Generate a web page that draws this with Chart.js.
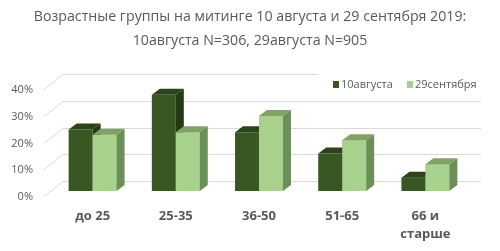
<!DOCTYPE html>
<html lang="ru">
<head>
<meta charset="UTF-8">
<title>Возрастные группы</title>
<script src="https://cdn.jsdelivr.net/npm/chart.js"></script>
<style>
  html, body { margin: 0; padding: 0; background: #fff; }
  #wrap { width: 500px; height: 251px; }
</style>
</head>
<body>
<div id="wrap"><canvas id="c"></canvas></div>
<script>
  const categories = [['до 25'], ['25-35'], ['36-50'], ['51-65'], ['66 и', 'старше']];
  const aug10 = [23, 36, 22, 14, 5];
  const sep29 = [21, 22, 28, 19, 10];
  const seriesNames = ['10августа', '29сентября'];
  const yTicks = [0, 10, 20, 30, 40];

  const frontCol = ['#385723', '#a9d18e'];
  const topCol = ['#2b4419', '#80a267'];
  const sideCol = ['#233a15', '#6c8f57'];
  const DX = 8, DY = 6;       // bar depth
  const WALL_DY = 10;         // back wall shift

  const box3d = {
    id: 'box3d',
    beforeDatasetsDraw(chart) {
      const ctx = chart.ctx, y = chart.scales.y;
      ctx.save();
      ctx.strokeStyle = '#d9d9d9';
      ctx.lineWidth = 1;
      yTicks.forEach(v => {
        const py = Math.round(y.getPixelForValue(v)) + 0.5;
        ctx.beginPath();
        ctx.moveTo(44, py + 5);
        ctx.lineTo(63, py - WALL_DY);
        ctx.lineTo(v === 40 ? 318 : 481, py - WALL_DY);
        ctx.stroke();
      });
      ctx.restore();
    },
    afterDatasetsDraw(chart) {
      const ctx = chart.ctx;
      const faces = (el, i) => {
        const p = el.getProps(['x', 'y', 'base', 'width'], true);
        const l = p.x - p.width / 2, r = p.x + p.width / 2;
        ctx.fillStyle = topCol[i];
        ctx.beginPath();
        ctx.moveTo(l, p.y); ctx.lineTo(r, p.y);
        ctx.lineTo(r + DX, p.y - DY); ctx.lineTo(l + DX, p.y - DY);
        ctx.closePath(); ctx.fill();
        ctx.fillStyle = sideCol[i];
        ctx.beginPath();
        ctx.moveTo(r, p.y); ctx.lineTo(r + DX, p.y - DY);
        ctx.lineTo(r + DX, p.base - DY); ctx.lineTo(r, p.base);
        ctx.closePath(); ctx.fill();
      };
      ctx.save();
      chart.getDatasetMeta(0).data.forEach(el => faces(el, 0));
      chart.getDatasetMeta(1).data.forEach(el => { el.draw(ctx); faces(el, 1); });

      // legend
      ctx.font = '11px "Open Sans"';
      ctx.textBaseline = 'middle';
      const lx = [333, 407];
      seriesNames.forEach((n, i) => {
        ctx.fillStyle = frontCol[i];
        ctx.fillRect(lx[i], 81, 6, 7);
        ctx.fillStyle = '#595959';
        ctx.fillText(n, lx[i] + 8, 85);
      });
      ctx.restore();
    }
  };

  new Chart(document.getElementById('c'), {
    type: 'bar',
    data: {
      labels: categories,
      datasets: [
        { label: seriesNames[0], data: aug10, backgroundColor: frontCol[0] },
        { label: seriesNames[1], data: sep29, backgroundColor: frontCol[1] }
      ]
    },
    options: {
      responsive: true,
      maintainAspectRatio: false,
      animation: false,
      layout: { padding: 0 },
      datasets: { bar: { barPercentage: 1, categoryPercentage: 0.576 } },
      plugins: {
        legend: { display: false },
        tooltip: { enabled: false },
        title: {
          display: true,
          text: ['Возрастные группы на митинге 10 августа и 29 сентября 2019:', '10августа N=306, 29августа N=905'],
          color: '#595959',
          font: { family: 'Open Sans', size: 14.2, weight: 'normal', lineHeight: '24px' },
          padding: { top: 5, bottom: 31 }
        }
      },
      scales: {
        x: {
          afterFit(s) { s.height = 60; },
          grid: { display: false, drawTicks: false },
          border: { display: false },
          ticks: {
            color: '#595959',
            font: { family: 'Open Sans', size: 13, weight: 'bold', lineHeight: 1.4 },
            padding: 16,
            maxRotation: 0
          }
        },
        y: {
          min: 0, max: 40,
          afterFit(s) { s.width = 51; },
          grid: { display: false, drawTicks: false },
          border: { display: false },
          ticks: {
            stepSize: 10,
            color: '#595959',
            font: { family: 'Open Sans', size: 11 },
            padding: 18,
            labelOffset: 6,
            callback: v => v + '%'
          }
        },
        // empty right-hand spacer so the title stays centred on the page
        y2: {
          type: 'linear',
          position: 'right',
          afterFit(s) { s.width = 33; },
          grid: { display: false, drawTicks: false },
          border: { display: false },
          ticks: { display: false }
        }
      }
    },
    plugins: [box3d]
  });
</script>
</body>
</html>
